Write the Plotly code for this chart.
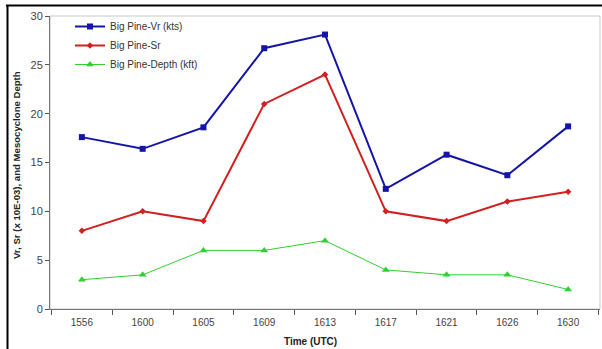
import plotly.graph_objects as go

times = ["1556", "1600", "1605", "1609", "1613", "1617", "1621", "1626", "1630"]
vr = [17.6, 16.4, 18.6, 26.7, 28.1, 12.3, 15.8, 13.7, 18.7]
sr = [8, 10, 9, 21, 24, 10, 9, 11, 12]
depth = [3, 3.5, 6, 6, 7, 4, 3.5, 3.5, 2]

W, H = 602, 349
# plot area in pixels
PL, PR, PT, PB = 50, 600, 16, 309


def fx(x):
    return x / W


def fy(y):
    return (H - y) / H


fig = go.Figure()
fig.add_trace(go.Scatter(x=times, y=vr, mode="lines+markers", name="Big Pine-Vr (kts)",
                         line=dict(color="#1414a8", width=2),
                         marker=dict(symbol="square", size=6, color="#1414a8")))
fig.add_trace(go.Scatter(x=times, y=sr, mode="lines+markers", name="Big Pine-Sr",
                         line=dict(color="#d02020", width=2),
                         marker=dict(symbol="diamond", size=5, color="#d02020")))
fig.add_trace(go.Scatter(x=times, y=depth, mode="lines+markers", name="Big Pine-Depth (kft)",
                         line=dict(color="#30d030", width=1),
                         marker=dict(symbol="triangle-up", size=7, color="#30d030")))

fig.update_layout(
    width=W, height=H,
    margin=dict(l=0, r=0, t=0, b=0),
    paper_bgcolor="white", plot_bgcolor="white",
    font=dict(family="Liberation Sans, Arial, sans-serif", size=10, color="#333"),
    showlegend=True,
    legend=dict(x=fx(70), y=fy(12), xanchor="left", yanchor="top",
                bgcolor="rgba(0,0,0,0)", font=dict(size=10, color="#333"),
                tracegroupgap=0, itemwidth=30),
    xaxis=dict(domain=[fx(PL), fx(PR)], type="category", tickson="boundaries",
               ticks="outside", ticklen=5, tickcolor="#555", showline=True,
               linecolor="#777", linewidth=1, showgrid=False, zeroline=False,
               automargin=False, ticklabelstandoff=4,
               tickfont=dict(size=10, color="#444")),
    yaxis=dict(domain=[fy(PB), fy(PT)], range=[0, 30], dtick=5, ticks="outside",
               ticklen=4, tickcolor="#555", showline=True, linecolor="#777",
               linewidth=1, showgrid=False, zeroline=False, automargin=False,
               tickfont=dict(size=11, color="#444")),
)

fig.add_annotation(text="<b>Time (UTC)</b>", xref="paper", yref="paper",
                   x=fx(310), y=fy(341), xanchor="center", yanchor="middle",
                   showarrow=False, font=dict(size=10, color="#222"))
fig.add_annotation(text="<b>Vr, Sr (x 10E-03), and Mesocyclone Depth</b>",
                   xref="paper", yref="paper", x=fx(16), y=fy(165),
                   xanchor="center", yanchor="middle",
                   textangle=-90, showarrow=False, font=dict(size=9.6, color="#222"))

# light gray plot box (top/right)
fig.add_shape(type="rect", xref="paper", yref="paper", x0=fx(PL), x1=fx(PR),
              y0=fy(PB), y1=fy(PT), line=dict(color="#c8c8c8", width=1), layer="below")
# black frame lines (top and left)
fig.add_shape(type="line", xref="paper", yref="paper", x0=fx(6), x1=1,
              y0=fy(5.5), y1=fy(5.5), line=dict(color="black", width=2))
fig.add_shape(type="line", xref="paper", yref="paper", x0=fx(7.5), x1=fx(7.5),
              y0=fy(5), y1=0, line=dict(color="black", width=2))

fig.write_html("out.html", config={"displayModeBar": False},
               post_script="document.body.style.margin='0px';"
                           "document.body.style.overflow='hidden';")
